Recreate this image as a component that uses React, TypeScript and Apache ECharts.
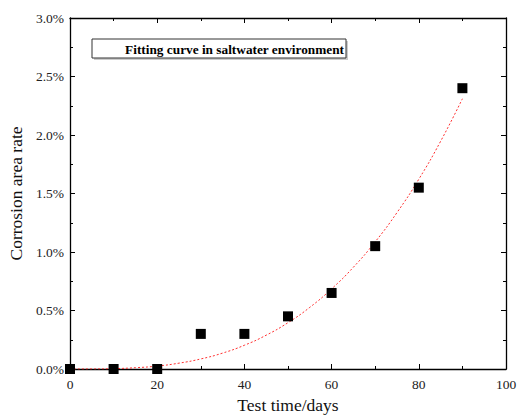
import React, { useEffect, useRef } from "react";
import * as echarts from "echarts";

const days = [0, 10, 20, 30, 40, 50, 60, 70, 80, 90];
const corrosion = [0, 0, 0, 0.3, 0.3, 0.45, 0.65, 1.05, 1.55, 2.4];

const fitDays = [0, 5, 10, 15, 20, 25, 30, 35, 40, 45, 50, 55, 60, 65, 70, 75, 80, 85, 90];
const fitValues = [0, 0.0004, 0.003, 0.011, 0.025, 0.05, 0.086, 0.136, 0.203, 0.289, 0.396, 0.527, 0.685, 0.87, 1.087, 1.337, 1.622, 1.946, 2.31];

const xTicks = { min: 0, max: 100, interval: 20 };
const yTicks = { min: 0, max: 3, interval: 0.5 };

const legendLabel = "Fitting curve in saltwater environment";
const xName = "Test time/days";
const yName = "Corrosion area rate";

const FONT = "'Liberation Serif', 'DejaVu Serif', serif";

export default function App() {
  const ref = useRef<HTMLDivElement>(null);
  useEffect(() => {
    if (!ref.current) return;
    const chart = echarts.init(ref.current, null, { renderer: "svg" });
    const axisCommon = {
      axisLine: { show: true, onZero: false, lineStyle: { color: "#000", width: 1.3 } },
      axisTick: { show: true, inside: true, length: 5, lineStyle: { color: "#000", width: 1 } },
      minorTick: { show: true, splitNumber: 2, length: 3, lineStyle: { color: "#000", width: 1 } },
      splitLine: { show: false },
    };
    chart.setOption({
      animation: false,
      backgroundColor: "#fff",
      grid: { left: 70, right: 11, top: 18, bottom: 48, containLabel: false, outerBoundsMode: "none" },
      xAxis: [
        {
          type: "value",
          ...xTicks,
          position: "bottom",
          ...axisCommon,
          axisLabel: { color: "#222", fontFamily: FONT, fontSize: 13.5, margin: 8 },
          name: xName,
          nameLocation: "middle",
          nameGap: 27,
          nameTextStyle: { color: "#111", fontFamily: FONT, fontSize: 17.5 },
        },
        {
          type: "value",
          ...xTicks,
          position: "top",
          ...axisCommon,
          axisLabel: { show: false },
        },
      ],
      yAxis: [
        {
          type: "value",
          ...yTicks,
          position: "left",
          ...axisCommon,
          axisLabel: {
            color: "#222",
            fontFamily: FONT,
            fontSize: 13.5,
            margin: 6,
            formatter: (v: number) => v.toFixed(1) + "%",
          },
          name: yName,
          nameLocation: "middle",
          nameGap: 44,
          nameTextStyle: { color: "#111", fontFamily: FONT, fontSize: 17.5 },
        },
        {
          type: "value",
          ...yTicks,
          position: "right",
          ...axisCommon,
          axisLabel: { show: false },
        },
      ],
      series: [
        {
          type: "line",
          name: legendLabel,
          data: fitDays.map((d, i) => [d, fitValues[i]]),
          smooth: true,
          symbol: "none",
          lineStyle: { color: "#ff3030", width: 1, type: [2, 2] },
          z: 2,
        },
        {
          type: "scatter",
          data: days.map((d, i) => [d, corrosion[i]]),
          symbol: "rect",
          symbolSize: 10,
          itemStyle: { color: "#000", opacity: 1 },
          z: 3,
        },
      ],
      graphic: [
        {
          type: "rect",
          shape: { x: 94, y: 41, width: 254, height: 19 },
          style: { fill: "#ccc" },
          silent: true,
        },
        {
          type: "rect",
          shape: { x: 92, y: 39, width: 254, height: 19 },
          style: { fill: "#fff", stroke: "#333", lineWidth: 1 },
          silent: true,
        },
        {
          type: "text",
          x: 344,
          y: 49,
          style: {
            text: legendLabel,
            fontFamily: FONT,
            fontSize: 13.3,
            fontWeight: "bold",
            fill: "#000",
            align: "right",
            verticalAlign: "middle",
          },
          silent: true,
        },
      ],
    });
    return () => chart.dispose();
  }, []);
  return <div ref={ref} style={{ width: 517, height: 417, position: "absolute", left: 0, top: 0 }} />;
}
